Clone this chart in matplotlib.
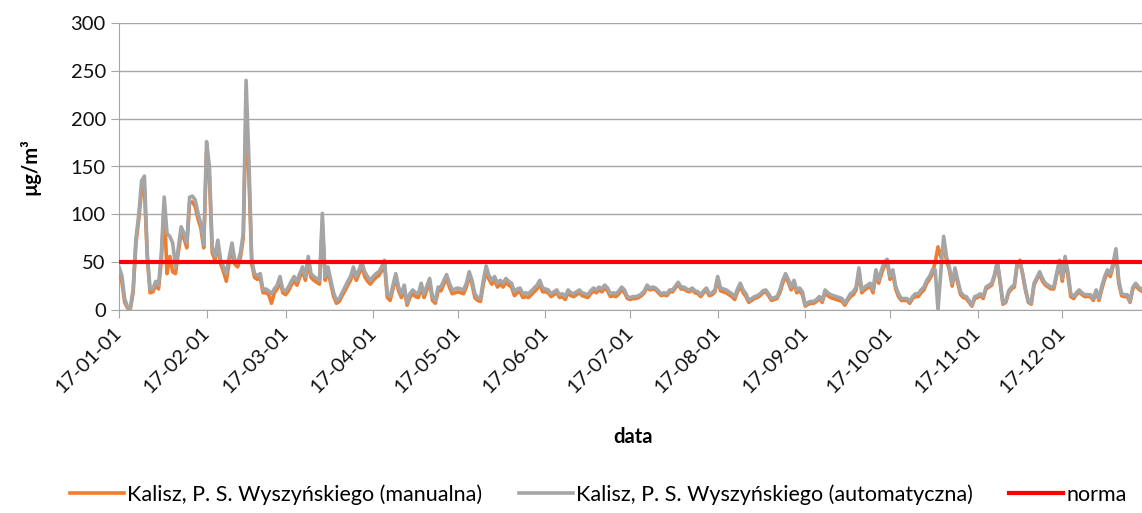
import matplotlib
matplotlib.use("Agg")
import matplotlib.pyplot as plt
import matplotlib.dates as mdates
import numpy as np
import pandas as pd

plt.rcParams['font.family'] = ['Lato', 'DejaVu Sans']

# daily PM10, 2017 (one value per day, grouped by month)
manualna = [
    40, 30, 8, 2, 1, 18, 70, 95, 125, 128, 55, 18, 19, 26, 22, 52, 110, 38, 56, 40, 38, 60, 80, 75, 65, 112, 113, 108, 95, 85, 65,
    165, 140, 60, 52, 68, 48, 40, 30, 50, 65, 48, 45, 55, 75, 210, 140, 48, 34, 32, 34, 18, 18, 16, 7, 18, 22, 30, 18,
    16, 20, 26, 31, 26, 34, 41, 31, 50, 34, 31, 29, 27, 90, 31, 41, 27, 14, 7, 9, 15, 20, 26, 31, 41, 31, 38, 46, 35, 30, 27,
    31, 34, 36, 41, 48, 13, 10, 22, 34, 20, 13, 22, 5, 13, 17, 14, 13, 24, 13, 21, 29, 10, 7, 20, 20, 27, 33, 24, 17, 18,
    19, 18, 17, 24, 36, 27, 13, 10, 9, 27, 40, 32, 27, 31, 24, 27, 24, 29, 26, 24, 15, 18, 19, 13, 14, 13, 16, 19, 22, 27, 19,
    19, 18, 14, 16, 18, 13, 14, 11, 18, 15, 14, 16, 18, 15, 14, 13, 17, 20, 18, 21, 19, 23, 20, 14, 15, 14, 17, 21, 18, 12,
    11, 12, 12, 13, 15, 18, 24, 21, 22, 21, 18, 15, 16, 15, 19, 19, 23, 27, 22, 22, 20, 19, 21, 18, 17, 14, 18, 21, 15, 16, 19,
    32, 20, 19, 18, 16, 14, 11, 19, 25, 18, 14, 8, 10, 12, 13, 15, 18, 19, 15, 10, 11, 12, 18, 28, 35, 29, 21, 28, 18, 20, 16,
    4, 6, 7, 7, 9, 12, 8, 18, 15, 13, 12, 11, 10, 9, 5, 10, 14, 16, 21, 40, 18, 21, 23, 25, 18, 38, 28, 38, 46, 50,
    32, 38, 22, 14, 10, 10, 10, 7, 12, 14, 14, 18, 21, 28, 32, 38, 50, 66, 55, 68, 52, 42, 25, 40, 28, 16, 13, 12, 8, 4, 12,
    13, 15, 12, 22, 24, 26, 35, 50, 28, 6, 8, 18, 22, 24, 46, 52, 36, 20, 8, 6, 26, 32, 38, 30, 26, 24, 22, 22, 36, 50,
    30, 52, 36, 14, 12, 16, 19, 16, 14, 14, 14, 10, 19, 10, 22, 32, 40, 35, 46, 60, 28, 15, 14, 14, 8, 22, 26, 22, 20, 18, 20,
]

automatyczna = [
    45, 36, 12, 3, 2, 22, 75, 100, 135, 140, 60, 22, 22, 30, 26, 60, 118, 80, 77, 70, 45, 65, 87, 80, 70, 118, 119, 115, 101, 90, 68,
    176, 150, 66, 56, 73, 52, 45, 38, 55, 70, 52, 49, 60, 80, 240, 157, 52, 38, 36, 38, 21, 22, 20, 17, 22, 26, 35, 21,
    20, 24, 30, 35, 30, 38, 45, 35, 56, 38, 35, 33, 31, 101, 35, 45, 31, 18, 10, 12, 18, 24, 30, 35, 45, 35, 42, 50, 40, 35, 31,
    35, 38, 40, 45, 52, 17, 14, 26, 38, 24, 17, 26, 7, 17, 21, 18, 17, 28, 17, 25, 33, 14, 10, 24, 24, 31, 37, 28, 21, 22,
    23, 22, 21, 28, 40, 31, 17, 13, 12, 31, 46, 36, 31, 35, 28, 31, 28, 33, 30, 28, 19, 22, 23, 17, 18, 17, 20, 23, 26, 31, 23,
    22, 21, 17, 19, 21, 16, 17, 14, 21, 18, 17, 19, 21, 18, 17, 16, 20, 23, 21, 24, 22, 26, 23, 17, 18, 17, 20, 24, 21, 14,
    13, 14, 14, 15, 17, 20, 26, 23, 24, 23, 20, 17, 18, 17, 21, 21, 25, 29, 24, 24, 22, 21, 23, 20, 19, 16, 20, 23, 17, 18, 21,
    35, 23, 22, 21, 19, 17, 14, 22, 28, 21, 17, 10, 12, 14, 15, 17, 20, 21, 17, 12, 13, 14, 21, 31, 38, 32, 24, 31, 21, 23, 19,
    5, 8, 9, 9, 11, 14, 10, 21, 18, 16, 15, 14, 13, 12, 7, 12, 17, 19, 24, 44, 21, 24, 26, 28, 21, 42, 31, 42, 50, 53,
    35, 42, 25, 17, 12, 12, 12, 9, 14, 17, 17, 21, 24, 31, 35, 42, 42, 0, 40, 77, 56, 45, 28, 44, 31, 19, 15, 14, 10, 5, 14,
    15, 17, 14, 24, 26, 28, 37, 50, 31, 7, 9, 20, 24, 26, 49, 50, 38, 22, 9, 7, 28, 34, 40, 33, 28, 26, 24, 24, 38, 52,
    33, 56, 40, 17, 14, 18, 21, 18, 16, 16, 16, 12, 21, 12, 25, 35, 42, 38, 49, 64, 31, 17, 16, 16, 9, 24, 28, 24, 22, 20, 22,
]

norma = 50
dni = pd.date_range("2017-01-01", "2017-12-31", freq="D")

fig = plt.figure(figsize=(11.42, 5.13), dpi=100)
ax = fig.add_axes([119 / 1142, 203 / 513, 1028 / 1142, 287 / 513])

ax.plot(dni, manualna, color='#ED7D31', lw=2.6, label='Kalisz, P. S. Wyszyńskiego (manualna)', zorder=3)
ax.plot(dni, automatyczna, color='#A5A5A5', lw=2.6, label='Kalisz, P. S. Wyszyńskiego (automatyczna)', zorder=4)
ax.plot(dni, [norma] * len(dni), color='#FF0000', lw=3, label='norma', zorder=5)

ax.set_xlim(dni[0], dni[-1])
ax.set_ylim(0, 300)
ax.set_yticks(np.arange(0, 301, 50))
ax.yaxis.grid(True, color='#A6A6A6', lw=1)
ax.set_axisbelow(True)

ax.xaxis.set_major_locator(mdates.MonthLocator())
ax.xaxis.set_major_formatter(mdates.DateFormatter('%y-%m-%d'))

for s in ['top', 'right']:
    ax.spines[s].set_visible(False)
for s in ['left', 'bottom']:
    ax.spines[s].set_color('#A6A6A6')
ax.tick_params(axis='both', colors='#A6A6A6', labelcolor='#111111', labelsize=14.5, length=5.5, pad=4)
ax.tick_params(axis='x', pad=9)
for lbl in ax.get_xticklabels():
    lbl.set_rotation(45)
    lbl.set_ha('right')
    lbl.set_va('center')
    lbl.set_rotation_mode('anchor')

ax.set_xlabel('data', fontsize=14.5, fontweight='bold', labelpad=22)
ax.set_ylabel('µg/m³', fontsize=14.5, fontweight='bold', labelpad=22)

fig.legend(loc='lower center', bbox_to_anchor=(0.524, -0.022), ncol=3, frameon=False,
           fontsize=15.5, handlelength=2.5, handletextpad=0.15, columnspacing=1.7)

fig.savefig('out.png', dpi=100)
